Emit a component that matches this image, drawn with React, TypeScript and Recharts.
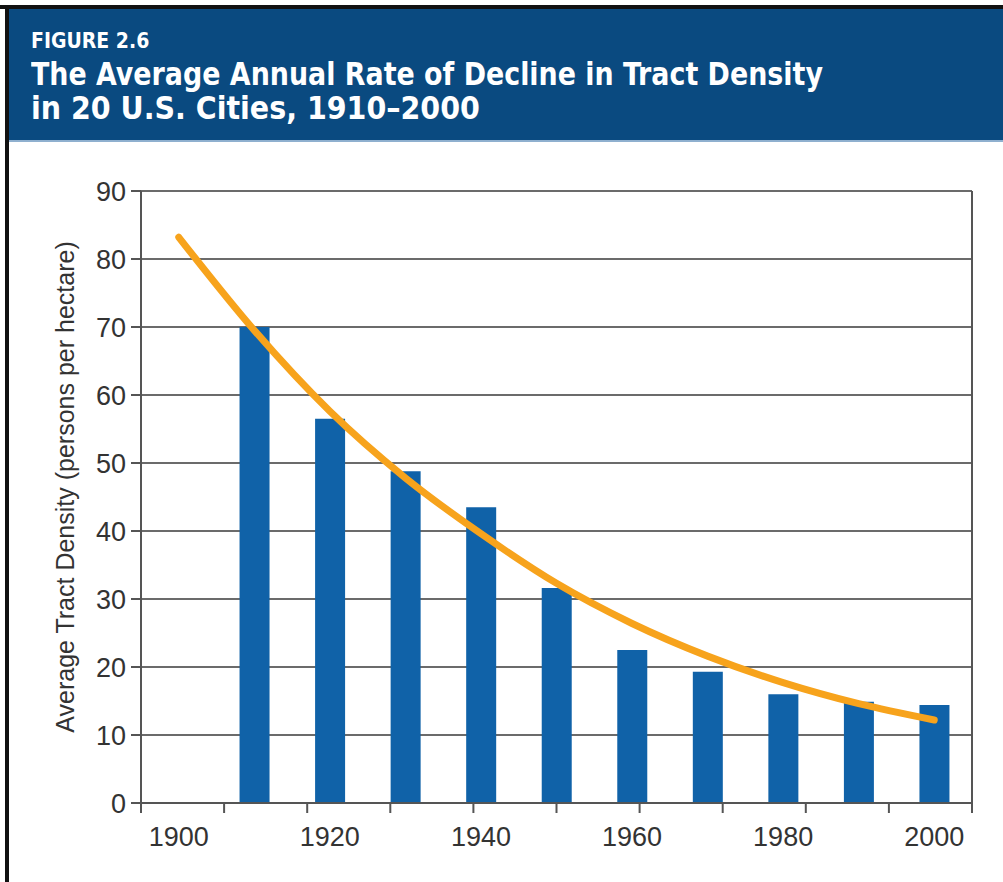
import React from "react";
import {
  ComposedChart,
  Bar,
  Line,
  XAxis,
  YAxis,
  CartesianGrid,
} from "recharts";

// decades on the x axis
const years = ["1900", "1910", "1920", "1930", "1940", "1950", "1960", "1970", "1980", "1990", "2000"];
// average tract density, persons per hectare (no bar for 1900)
const density = [null, 70, 56.5, 48.8, 43.5, 31.6, 22.5, 19.3, 16.0, 14.9, 14.4];
// fitted decline curve
const trend = [83.2, 69.5, 57.6, 47.8, 39.6, 32.3, 26.4, 21.6, 17.7, 14.6, 12.2];
const yTicks = [0, 10, 20, 30, 40, 50, 60, 70, 80, 90];
const edgeTicks = [0, 1, 2, 3, 4, 5, 6, 7, 8, 9, 10, 11];

const data = years.map((year, i) => ({
  year,
  density: density[i],
  trend: trend[i],
}));

const FONT = '"Liberation Sans", Arial, sans-serif';
const TITLE_FONT = '"DejaVu Sans Condensed", "DejaVu Sans", sans-serif';
const AXIS = "#555";
const TEXT = "#333";

function YLabel({ viewBox }: { viewBox?: { x: number; y: number; width: number; height: number } }) {
  const cy = (viewBox?.y ?? 0) + (viewBox?.height ?? 0) / 2 - 10;
  return (
    <text
      x={65}
      y={cy}
      transform={`rotate(-90, 65, ${cy})`}
      textAnchor="middle"
      dominantBaseline="central"
      fill={TEXT}
      fontSize={25}
      fontFamily={FONT}
    >
      Average Tract Density (persons per hectare)
    </text>
  );
}

const titleLine: React.CSSProperties = {
  position: "absolute",
  left: 22,
  fontSize: 32,
  lineHeight: "34px",
  whiteSpace: "nowrap",
  transformOrigin: "0 0",
};

export default function App() {
  return (
    <div
      style={{
        position: "absolute",
        left: 0,
        top: 0,
        width: 1003,
        height: 882,
        background: "#fff",
        overflow: "hidden",
      }}
    >
      {/* frame */}
      <div style={{ position: "absolute", left: 0, top: 5, width: 1003, height: 4, background: "#111" }} />
      <div style={{ position: "absolute", left: 5, top: 5, width: 4, height: 877, background: "#111" }} />
      {/* header band */}
      <div
        style={{
          position: "absolute",
          left: 9,
          top: 9,
          width: 994,
          height: 131,
          background: "#0a4a80",
          borderBottom: "2px solid #8fb0cf",
          color: "#fff",
          fontFamily: TITLE_FONT,
          fontWeight: "bold",
        }}
      >
        <div style={{ position: "absolute", left: 22, top: 20, fontSize: 21, lineHeight: "24px", whiteSpace: "nowrap" }}>
          FIGURE 2.6
        </div>
        <div style={{ ...titleLine, top: 48, transform: "scaleX(0.934)" }}>
          The Average Annual Rate of Decline in Tract Density
        </div>
        <div style={{ ...titleLine, top: 82, transform: "scaleX(0.99)" }}>
          in 20 U.S. Cities, 1910–2000
        </div>
      </div>

      <div style={{ position: "absolute", left: 0, top: 150 }}>
        <ComposedChart
          width={1003}
          height={732}
          data={data}
          margin={{ top: 41, right: 30, left: 0, bottom: 0 }}
          barGap={0}
        >
          <CartesianGrid
            xAxisId="b-cat"
            vertical={false}
            stroke="#3a3a3a"
            strokeWidth={1.5}
          />
          {/* boundary tick marks between decades */}
          <XAxis
            xAxisId="a-edge"
            type="number"
            domain={[0, 11]}
            allowDataOverflow
            ticks={edgeTicks}
            interval={0}
            height={1}
            tickFormatter={() => ""}
            tickSize={10}
            tickLine={{ stroke: AXIS, strokeWidth: 2 }}
            axisLine={{ stroke: AXIS, strokeWidth: 2 }}
          />
          <XAxis
            xAxisId="b-cat"
            dataKey="year"
            type="category"
            interval={0}
            height={78}
            tickLine={false}
            axisLine={false}
            tickSize={6}
            tickMargin={17}
            tick={{ fill: TEXT, fontSize: 27, fontFamily: FONT }}
            tickFormatter={(v: string) => (Number(v) % 20 === 0 ? v : "")}
          />
          <YAxis
            domain={[0, 90]}
            ticks={yTicks}
            interval={0}
            width={141}
            tickSize={10}
            tickMargin={5}
            tickLine={{ stroke: AXIS, strokeWidth: 2 }}
            axisLine={{ stroke: AXIS, strokeWidth: 2 }}
            tick={{ fill: TEXT, fontSize: 27, fontFamily: FONT }}
            label={<YLabel />}
          />
          <YAxis
            yAxisId="right"
            orientation="right"
            domain={[0, 90]}
            allowDataOverflow
            width={1}
            tick={false}
            tickLine={false}
            axisLine={{ stroke: AXIS, strokeWidth: 2 }}
          />
          <Bar xAxisId="b-cat" dataKey="density" fill="#1062a8" barSize={30} isAnimationActive={false} />
          <Line
            xAxisId="b-cat"
            dataKey="trend"
            type="monotone"
            stroke="#f7a31c"
            strokeWidth={7}
            strokeLinecap="round"
            dot={false}
            activeDot={false}
            isAnimationActive={false}
          />
        </ComposedChart>
      </div>
    </div>
  );
}
